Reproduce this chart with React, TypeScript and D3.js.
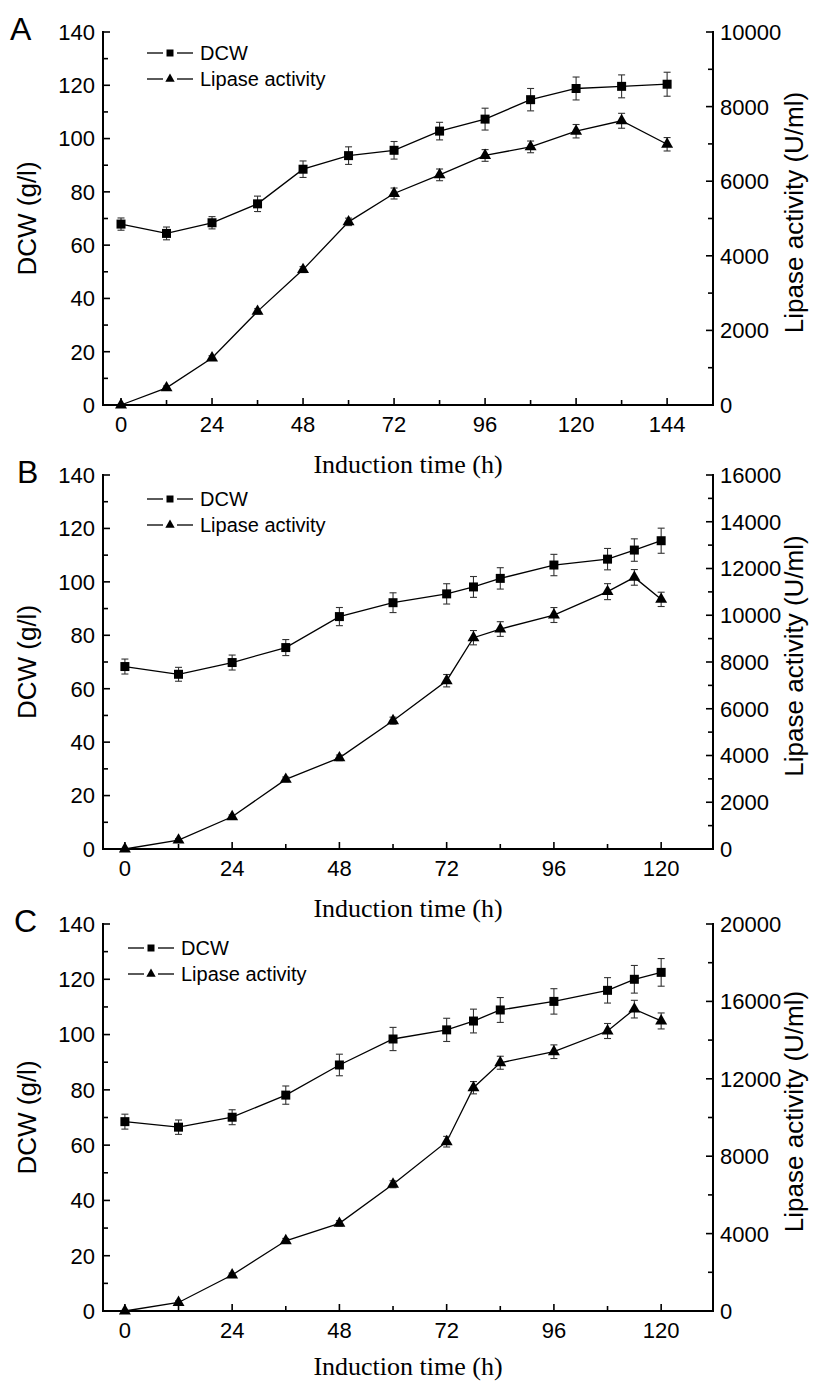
import React from 'react'
import * as d3 from 'd3'

// induction time points (h)
const timesA = [0, 12, 24, 36, 48, 60, 72, 84, 96, 108, 120, 132, 144]
const timesBC = [0, 12, 24, 36, 48, 60, 72, 78, 84, 96, 108, 114, 120]

// panel A
const dcwA = [67.9, 64.4, 68.4, 75.5, 88.5, 93.6, 95.6, 102.8, 107.3, 114.6, 118.8, 119.6, 120.4]
const dcwErrA = [2.3, 2.4, 2.3, 2.9, 3.1, 3.3, 3.3, 3.3, 4.1, 4.2, 4.3, 4.3, 4.5]
const lipA = [0, 460, 1260, 2510, 3630, 4910, 5670, 6170, 6690, 6920, 7340, 7620, 6990]
const lipErrA = [0, 50, 60, 70, 80, 100, 147, 157, 157, 157, 180, 200, 180]

// panel B
const dcwB = [68.3, 65.4, 69.8, 75.4, 87.0, 92.2, 95.5, 98.1, 101.3, 106.3, 108.5, 111.9, 115.4]
const dcwErrB = [2.8, 2.6, 2.8, 3.0, 3.4, 3.7, 3.8, 3.9, 4.0, 4.0, 4.0, 4.2, 4.7]
const lipB = [0, 380, 1380, 2980, 3900, 5490, 7200, 9040, 9410, 10010, 11010, 11620, 10680]
const lipErrB = [0, 60, 80, 100, 120, 150, 265, 306, 314, 320, 342, 335, 306]

// panel C
const dcwC = [68.5, 66.5, 70.1, 78.1, 89.0, 98.4, 101.7, 104.9, 108.9, 112.0, 116.0, 120.0, 122.5]
const dcwErrC = [2.7, 2.6, 2.7, 3.3, 3.9, 4.2, 4.2, 4.3, 4.5, 4.6, 4.6, 5.0, 5.0]
const lipC = [0, 440, 1860, 3630, 4530, 6550, 8750, 11540, 12830, 13400, 14470, 15600, 14990]
const lipErrC = [0, 80, 100, 120, 140, 180, 275, 318, 336, 353, 388, 456, 413]

const xTickLabelsA = [0, 24, 48, 72, 96, 120, 144]
const xTickLabelsBC = [0, 24, 48, 72, 96, 120]
const dcwTicks = [0, 20, 40, 60, 80, 100, 120, 140]

const sans = '"Liberation Sans", Arial, Helvetica, sans-serif'
const serif = '"Liberation Serif", "Times New Roman", serif'

const left = 103
const right = 713

type PanelProps = {
  letter: string
  top: number
  bottom: number
  xDomain: [number, number]
  xMax: number
  xLabels: number[]
  times: number[]
  dcw: number[]
  dcwErr: number[]
  lip: number[]
  lipErr: number[]
  lipMax: number
  lipStep: number
  letterX: number
  legendX: number
  legendDy: number
  titleDy: number
}

const square = d3.symbol(d3.symbolSquare, 81)()
const triangle = d3.symbol(d3.symbolTriangle, 62)()
const squareSmall = d3.symbol(d3.symbolSquare, 49)()
const triangleSmall = d3.symbol(d3.symbolTriangle, 38)()

function Panel(p: PanelProps) {
  const x = d3.scaleLinear().domain(p.xDomain).range([left, right])
  const yL = d3.scaleLinear().domain([0, 140]).range([p.bottom, p.top])
  const yR = d3.scaleLinear().domain([0, p.lipMax]).range([p.bottom, p.top])

  const line = d3.line<number>()
  const dcwPts = p.times.map((t, i) => [x(t), yL(p.dcw[i])] as [number, number])
  const lipPts = p.times.map((t, i) => [x(t), yR(p.lip[i])] as [number, number])

  const minorX = d3.range(0, p.xMax + 1, 12)
  const minorL = d3.range(0, 141, 10)
  const minorR = d3.range(0, p.lipMax + 1, p.lipStep / 2)
  const majorR = d3.range(0, p.lipMax + 1, p.lipStep)
  const midY = (p.top + p.bottom) / 2

  const errBar = (cx: number, y0: number, y1: number, key: string) => (
    <g key={key} stroke="#333" strokeWidth={1.1}>
      <line x1={cx} x2={cx} y1={y0} y2={y1} />
      <line x1={cx - 3.5} x2={cx + 3.5} y1={y0} y2={y0} />
      <line x1={cx - 3.5} x2={cx + 3.5} y1={y1} y2={y1} />
    </g>
  )

  return (
    <g>
      <text x={p.letterX} y={p.top + 8} fontFamily={sans} fontSize={32}>{p.letter}</text>

      {/* series lines */}
      <path d={line(dcwPts) || ''} fill="none" stroke="#000" strokeWidth={1.3} />
      <path d={line(lipPts) || ''} fill="none" stroke="#000" strokeWidth={1.3} />

      {/* error bars */}
      {p.times.map((t, i) => errBar(x(t), yL(p.dcw[i] - p.dcwErr[i]), yL(p.dcw[i] + p.dcwErr[i]), 'd' + i))}
      {p.times.map((t, i) => p.lipErr[i] > 0
        ? errBar(x(t), yR(p.lip[i] - p.lipErr[i]), yR(p.lip[i] + p.lipErr[i]), 'l' + i)
        : null)}

      {/* markers */}
      {dcwPts.map((d, i) => <path key={'s' + i} d={square || ''} transform={`translate(${d[0]},${d[1]})`} fill="#000" />)}
      {lipPts.map((d, i) => <path key={'t' + i} d={triangle || ''} transform={`translate(${d[0]},${d[1]})`} fill="#000" />)}

      {/* axes */}
      <g stroke="#000" strokeWidth={2} fill="none">
        <line x1={left} x2={left} y1={p.top - 1} y2={p.bottom + 1} />
        <line x1={right} x2={right} y1={p.top - 1} y2={p.bottom + 1} />
        <line x1={left - 1} x2={right + 1} y1={p.bottom} y2={p.bottom} />
      </g>
      <g stroke="#000" strokeWidth={1.6}>
        {minorX.map(t => (
          <line key={'xt' + t} x1={x(t)} x2={x(t)} y1={p.bottom} y2={p.bottom - (t % 24 === 0 ? 7 : 5)} />
        ))}
        {minorL.map(v => (
          <line key={'lt' + v} x1={left} x2={left + (v % 20 === 0 ? 7 : 5)} y1={yL(v)} y2={yL(v)} />
        ))}
        {minorR.map(v => (
          <line key={'rt' + v} x1={right} x2={right - (v % p.lipStep === 0 ? 7 : 5)} y1={yR(v)} y2={yR(v)} />
        ))}
      </g>

      {/* tick labels */}
      <g fontFamily={sans} fontSize={22} fill="#000">
        {p.xLabels.map(t => (
          <text key={'xl' + t} x={x(t)} y={p.bottom + 27} textAnchor="middle">{t}</text>
        ))}
        {dcwTicks.map(v => (
          <text key={'ll' + v} x={left - 8} y={yL(v)} dy="0.36em" textAnchor="end">{v}</text>
        ))}
        {majorR.map(v => (
          <text key={'rl' + v} x={right + 7} y={yR(v)} dy="0.36em" textAnchor="start">{v}</text>
        ))}
      </g>

      {/* axis titles */}
      <text x={(left + right) / 2} y={p.bottom + p.titleDy} textAnchor="middle" fontFamily={serif} fontSize={26}>Induction time (h)</text>
      <text transform={`translate(36,${midY}) rotate(-90)`} textAnchor="middle" fontFamily={sans} fontSize={26}>DCW (g/l)</text>
      <text transform={`translate(803,${midY - 6}) rotate(-90)`} textAnchor="middle" fontFamily={sans} fontSize={26}>Lipase activity (U/ml)</text>

      {/* legend */}
      <g transform={`translate(${p.legendX},${p.top + p.legendDy})`} stroke="#000" strokeWidth={1.3}>
        <line x1={0} x2={16} y1={0} y2={0} />
        <line x1={30} x2={46} y1={0} y2={0} />
        <path d={squareSmall || ''} transform="translate(23,0)" fill="#000" stroke="none" />
        <line x1={0} x2={16} y1={26} y2={26} />
        <line x1={30} x2={46} y1={26} y2={26} />
        <path d={triangleSmall || ''} transform="translate(23,26)" fill="#000" stroke="none" />
        <g stroke="none" fill="#000" fontFamily={sans} fontSize={20}>
          <text x={53} y={0} dy="0.36em">DCW</text>
          <text x={53} y={26} dy="0.36em">Lipase activity</text>
        </g>
      </g>
    </g>
  )
}

export default function App() {
  return (
    <svg width={825} height={1383} style={{ position: 'absolute', left: 0, top: 0, background: '#fff' }}>
      <rect width={825} height={1383} fill="#fff" />
      <Panel letter="A" top={32} bottom={405} xDomain={[-4.75, 156.1]} xMax={144} xLabels={xTickLabelsA}
        times={timesA} dcw={dcwA} dcwErr={dcwErrA} lip={lipA} lipErr={lipErrA}
        lipMax={10000} lipStep={2000} letterX={10} legendX={147} legendDy={21} titleDy={68} />
      <Panel letter="B" top={475} bottom={849} xDomain={[-4.9, 131.6]} xMax={120} xLabels={xTickLabelsBC}
        times={timesBC} dcw={dcwB} dcwErr={dcwErrB} lip={lipB} lipErr={lipErrB}
        lipMax={16000} lipStep={2000} letterX={17} legendX={147} legendDy={24} titleDy={68} />
      <Panel letter="C" top={924} bottom={1311} xDomain={[-4.9, 131.6]} xMax={120} xLabels={xTickLabelsBC}
        times={timesBC} dcw={dcwC} dcwErr={dcwErrC} lip={lipC} lipErr={lipErrC}
        lipMax={20000} lipStep={4000} letterX={14} legendX={128} legendDy={24} titleDy={64} />
    </svg>
  )
}
